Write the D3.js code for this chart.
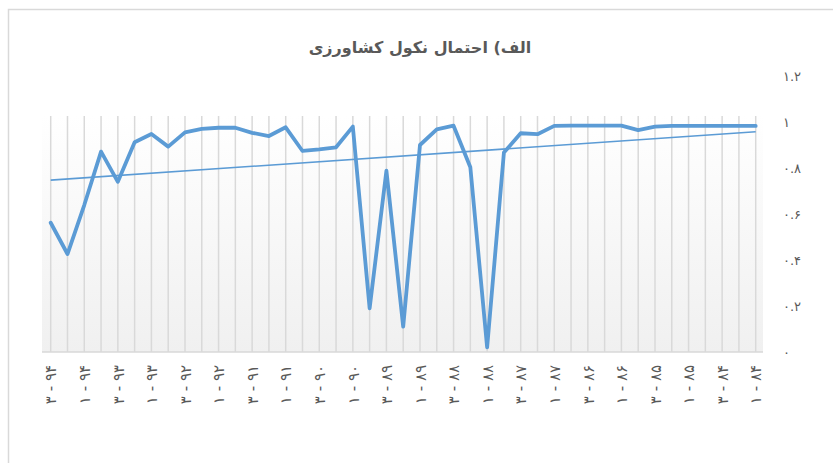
<!DOCTYPE html>
<html><head><meta charset="utf-8">
<script src="https://cdn.jsdelivr.net/npm/d3@7"></script>
<style>body{margin:0;background:#fff} svg{display:block}</style>
</head><body><svg id="c" width="833" height="463"></svg>
<script>
const title = "الف) احتمال نکول کشاورزی";
const categories = [
  "۹۴-۳","۹۴-۲","۹۴-۱",
  "۹۳-۴","۹۳-۳","۹۳-۲","۹۳-۱",
  "۹۲-۴","۹۲-۳","۹۲-۲","۹۲-۱",
  "۹۱-۴","۹۱-۳","۹۱-۲","۹۱-۱",
  "۹۰-۴","۹۰-۳","۹۰-۲","۹۰-۱",
  "۸۹-۴","۸۹-۳","۸۹-۲","۸۹-۱",
  "۸۸-۴","۸۸-۳","۸۸-۲","۸۸-۱",
  "۸۷-۴","۸۷-۳","۸۷-۲","۸۷-۱",
  "۸۶-۴","۸۶-۳","۸۶-۲","۸۶-۱",
  "۸۵-۴","۸۵-۳","۸۵-۲","۸۵-۱",
  "۸۴-۴","۸۴-۳","۸۴-۲","۸۴-۱"
];
const values = [
  0.562, 0.426, 0.639, 0.871, 0.740, 0.912, 0.948, 0.893, 0.955, 0.970,
  0.975, 0.975, 0.953, 0.939, 0.977, 0.874, 0.881, 0.890, 0.980, 0.190,
  0.788, 0.110, 0.900, 0.968, 0.984, 0.803, 0.020, 0.867, 0.951, 0.947,
  0.983, 0.984, 0.984, 0.984, 0.984, 0.965, 0.980, 0.983, 0.983, 0.983,
  0.983, 0.983, 0.983
];
const yTicks = [0, 0.2, 0.4, 0.6, 0.8, 1, 1.2];
const yTickLabels = ["۰", "۰.۲", "۰.۴", "۰.۶", "۰.۸", "۱", "۱.۲"];

const svg = d3.select("#c");
const font = "'DejaVu Sans', sans-serif";
const textColor = "#595959";
const lineColor = "#5b9bd5";

// chart border
svg.append("rect").attr("x", 8.5).attr("y", 9.5).attr("width", 900).attr("height", 500)
  .attr("fill", "#fff").attr("stroke", "#d9d9d9").attr("stroke-width", 1.5);

const plot = {left: 42, right: 763, top: 76, bottom: 352, gridTop: 116};
const x = d3.scalePoint().domain(categories).range([50.7, 755.7]);
const y = d3.scaleLinear().domain([0, 1.2]).range([plot.bottom, plot.top]);

// gradient background
const defs = svg.append("defs");
const grad = defs.append("linearGradient").attr("id", "bg").attr("x1", 0).attr("y1", 0).attr("x2", 0).attr("y2", 1);
grad.append("stop").attr("offset", "0%").attr("stop-color", "#ffffff");
grad.append("stop").attr("offset", "100%").attr("stop-color", "#f0f0f0");
svg.append("rect").attr("x", plot.left).attr("y", plot.gridTop)
  .attr("width", plot.right - plot.left).attr("height", plot.bottom - plot.gridTop)
  .attr("fill", "url(#bg)");

// vertical gridlines
svg.append("g").selectAll("line").data(categories).join("line")
  .attr("x1", d => x(d)).attr("x2", d => x(d))
  .attr("y1", plot.gridTop).attr("y2", plot.bottom)
  .attr("stroke", "#d9d9d9").attr("stroke-width", 1.5);

// x axis
const xAxis = svg.append("g").attr("transform", `translate(0,${plot.bottom})`)
  .call(d3.axisBottom(x).tickValues(categories.filter((d, i) => i % 2 === 0)).tickSize(0)
    .tickFormat(d => d.split("-").reverse().join(" - ")));
xAxis.select(".domain").attr("d", `M${plot.left},0H${plot.right}`).attr("stroke", "#d9d9d9").attr("stroke-width", 1.5);
xAxis.selectAll("text")
  .attr("transform", "rotate(-90)").attr("x", -13).attr("y", 0).attr("dy", "0.35em")
  .style("text-anchor", "end").style("font-family", font).style("font-size", "15px").attr("fill", textColor);

// y axis (right)
const yAxis = svg.append("g").attr("transform", `translate(781,0)`)
  .call(d3.axisRight(y).tickValues(yTicks).tickSize(0).tickPadding(2)
    .tickFormat((d, i) => yTickLabels[i]));
yAxis.select(".domain").remove();
yAxis.selectAll("text").style("font-family", font).style("font-size", "13px").attr("fill", textColor);

// trend line (least squares over category index)
const idx = values.map((v, i) => i);
const n = values.length;
const mx = d3.mean(idx), my = d3.mean(values);
const slope = d3.sum(idx, i => (i - mx) * (values[i] - my)) / d3.sum(idx, i => (i - mx) ** 2);
const icpt = my - slope * mx;
svg.append("line")
  .attr("x1", x(categories[0])).attr("y1", y(icpt))
  .attr("x2", x(categories[n - 1])).attr("y2", y(icpt + slope * (n - 1)))
  .attr("stroke", lineColor).attr("stroke-width", 1.6);

// main line
const line = d3.line().x((d, i) => x(categories[i])).y(d => y(d));
svg.append("path").datum(values).attr("d", line)
  .attr("fill", "none").attr("stroke", lineColor).attr("stroke-width", 3.8)
  .attr("stroke-linejoin", "round").attr("stroke-linecap", "round");

// title
svg.append("text").attr("x", 420).attr("y", 53).attr("text-anchor", "middle")
  .style("font-family", font).style("font-size", "16px").style("font-weight", "bold")
  .attr("fill", textColor).text(title);
</script></body></html>
